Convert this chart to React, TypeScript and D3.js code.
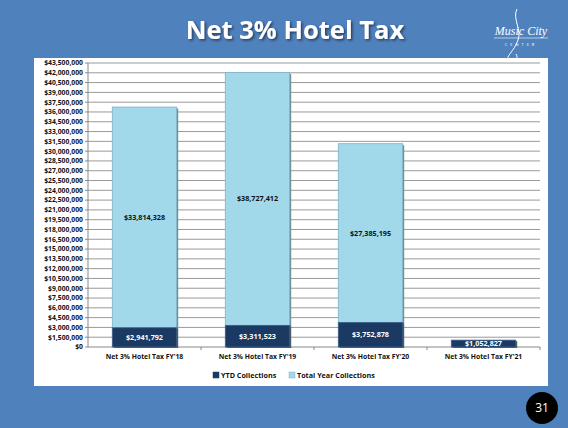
import React from "react";
import * as d3 from "d3";

// ---- data ----
const categories = [
  "Net 3% Hotel Tax FY'18",
  "Net 3% Hotel Tax FY'19",
  "Net 3% Hotel Tax FY'20",
  "Net 3% Hotel Tax FY'21",
];
const ytdCollections = [2941792, 3311523, 3752878, 1052827];
const totalYearCollections = [33814328, 38727412, 27385195, 0];
const seriesNames = ["YTD Collections", "Total Year Collections"];
const yMax = 43500000;
const yStep = 1500000;

const W = 568;
const H = 428;
const FONT = "'Open Sans', Lato, sans-serif";
const DARK = "#1b3a63";
const LIGHT = "#a1d9ea";

const fmt = (v: number) => "$" + d3.format(",")(v);

export default function App() {
  const margin = { left: 88, right: 28, top: 63, bottom: 81 };
  const x = d3
    .scaleBand()
    .domain(categories)
    .range([margin.left, W - margin.right])
    .paddingInner(0.43)
    .paddingOuter(0.215);
  const y = d3
    .scaleLinear()
    .domain([0, yMax])
    .range([H - margin.bottom, margin.top]);
  const ticks = d3.range(0, yMax + 1, yStep);
  const step = (W - margin.right - margin.left) / categories.length;

  const rows = categories.map((c, i) => ({
    cat: c,
    ytd: ytdCollections[i],
    total: totalYearCollections[i],
  }));

  return (
    <svg
      width={W}
      height={H}
      style={{ position: "fixed", left: 0, top: 0, fontFamily: FONT }}
    >
      <defs>
        <filter id="tshadow" x="-10%" y="-20%" width="120%" height="150%">
          <feDropShadow dx="1.5" dy="1.5" stdDeviation="1" floodColor="#1a2a44" floodOpacity="0.8" />
        </filter>
      </defs>
      <rect x={0} y={0} width={W} height={H} fill="#4f81bd" />

      {/* title */}
      <text
        x={295}
        y={39}
        textAnchor="middle"
        fill="#fff"
        fontSize={25.5}
        fontWeight="bold"
        filter="url(#tshadow)"
      >
        Net 3% Hotel Tax
      </text>

      {/* logo */}
      <g fill="none" stroke="#fff" strokeWidth={1}>
        <path d="M517,9 C512,18 522,30 518,40 C514,52 505,56 508,62 C511,66 520,60 516,54" />
        <line x1={494} y1={38} x2={548} y2={38} strokeWidth={0.6} />
      </g>
      <text x={521} y={35} textAnchor="middle" fill="#fff" fontSize={12} fontStyle="italic" style={{ fontFamily: "'Liberation Serif', serif" }}>
        Music City
      </text>
      <text x={521} y={46} textAnchor="middle" fill="#fff" fontSize={4} letterSpacing={3}>
        CENTER
      </text>

      {/* chart area */}
      <rect x={34} y={58} width={514} height={328} fill="#fff" />

      {/* gridlines and y axis */}
      {ticks.map((t) => (
        <g key={t}>
          {t > 0 && (
            <line
              x1={margin.left}
              x2={W - margin.right}
              y1={y(t)}
              y2={y(t)}
              stroke="#9a9a9a"
              strokeWidth={1}
            />
          )}
          <line x1={margin.left - 3} x2={margin.left} y1={y(t)} y2={y(t)} stroke="#888" />
          <text
            x={margin.left - 5}
            y={y(t)}
            dy="0.35em"
            textAnchor="end"
            fontSize={6.8}
            fontWeight="bold"
            fill="#111"
          >
            {fmt(t)}
          </text>
        </g>
      ))}
      <line x1={margin.left} x2={margin.left} y1={margin.top} y2={y(0)} stroke="#888" />
      <line x1={margin.left} x2={W - margin.right} y1={y(0)} y2={y(0)} stroke="#888" />
      {categories.map((c, i) => (
        <line
          key={c}
          x1={margin.left + step * (i + 1)}
          x2={margin.left + step * (i + 1)}
          y1={y(0)}
          y2={y(0) + 3}
          stroke="#888"
        />
      ))}

      {/* bars */}
      {rows.map((d) => {
        const bx = x(d.cat) as number;
        const bw = x.bandwidth();
        const y0 = y(0);
        const y1 = y(d.ytd);
        const y2 = y(d.ytd + d.total);
        return (
          <g key={d.cat}>
            {d.total > 0 && (
              <g>
                <rect x={bx + 1.5} y={y2 + 1.5} width={bw} height={y1 - y2} fill="#6d8f9a" />
                <rect x={bx} y={y2} width={bw} height={y1 - y2} fill={LIGHT} stroke="#7fb3c4" strokeWidth={0.8} />
                <text
                  x={bx + bw / 2}
                  y={(y1 + y2) / 2}
                  dy="0.35em"
                  textAnchor="middle"
                  fontSize={7.2}
                  fontWeight="bold"
                  fill="#111"
                >
                  {fmt(d.total)}
                </text>
              </g>
            )}
            <rect x={bx + 1.5} y={y1 + 1} width={bw} height={y0 - y1} fill="#4a5a6a" />
            <rect x={bx} y={y1} width={bw} height={y0 - y1} fill={DARK} stroke="#3d5f88" strokeWidth={0.8} />
            <text
              x={bx + bw / 2}
              y={(y0 + y1) / 2}
              dy="0.35em"
              textAnchor="middle"
              fontSize={7.2}
              fontWeight="bold"
              fill="#fff"
            >
              {fmt(d.ytd)}
            </text>
          </g>
        );
      })}

      {/* x labels */}
      {categories.map((c) => (
        <text
          key={c}
          x={(x(c) as number) + x.bandwidth() / 2}
          y={359}
          textAnchor="middle"
          fontSize={6.8}
          fontWeight="bold"
          fill="#111"
        >
          {c}
        </text>
      ))}

      {/* legend */}
      {seriesNames.map((s, i) => {
        const lx = i === 0 ? 213 : 289;
        return (
          <g key={s}>
            <rect x={lx} y={372} width={6} height={6} fill={i === 0 ? DARK : LIGHT} stroke={i === 0 ? DARK : "#7fb3c4"} strokeWidth={0.5} />
            <text x={lx + 8} y={378} fontSize={7.2} fontWeight="bold" fill="#111">
              {s}
            </text>
          </g>
        );
      })}

      {/* page number */}
      <circle cx={542} cy={408} r={16} fill="#000" />
      <text x={542} y={408} dy="0.35em" textAnchor="middle" fill="#fff" fontSize={12}>
        31
      </text>
    </svg>
  );
}
